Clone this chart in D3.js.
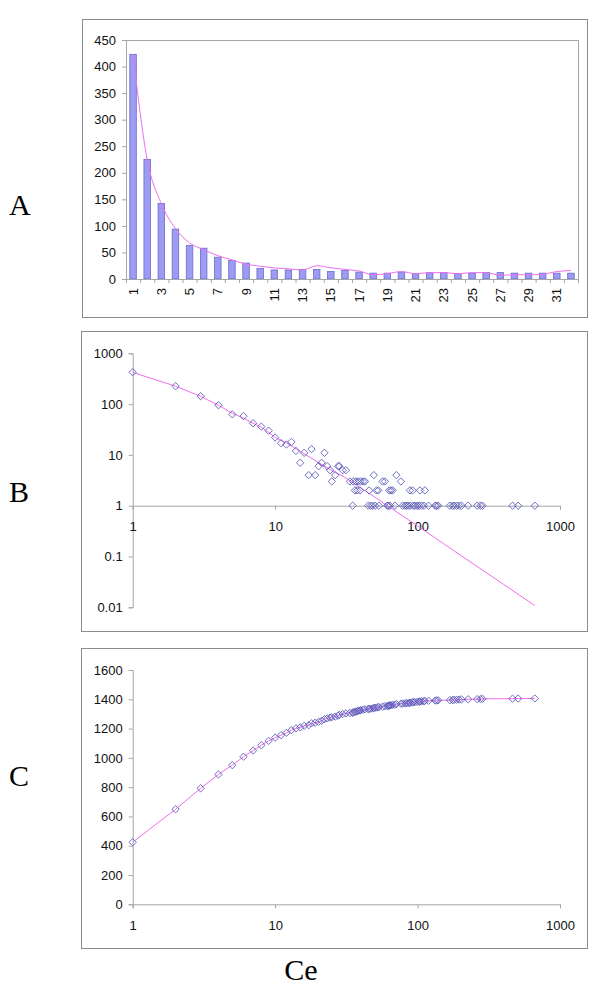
<!DOCTYPE html>
<html>
<head>
<meta charset="utf-8">
<script src="https://d3js.org/d3.v7.min.js"></script>
<style>
  body { margin: 0; background: #fff; }
  .tick text { font-family: "Liberation Sans", Arial, sans-serif; font-size: 13px; fill: #111; }
  .panel-letter { font-family: "Liberation Serif", "Times New Roman", serif; font-size: 30px; fill: #000; }
</style>
</head>
<body>
<div id="chart"></div>
<script>
// ---- panel A: bars by rank ----
const categoriesA = d3.range(1, 33);
const valuesA = [423, 225, 142, 94, 63, 58, 41, 35, 30, 20, 17, 17, 18, 18, 14, 16,
                 13, 11, 11, 13, 10, 12, 12, 10, 11, 12, 12, 11, 11, 11, 11, 11];
const trendA = [423, 225, 142, 95, 68, 55, 44, 36, 28, 24, 21, 19, 17, 25, 21, 18,
                15, 8, 10, 14, 10, 12, 12, 10, 12, 12, 7, 8, 8, 9, 14, 16];
const yTicksA = d3.range(0, 451, 50);

// ---- panel B: counts vs Ce (log-log) ----
const ceB = [1, 2, 3, 4, 5, 6, 7, 8, 9, 10,
  11, 12, 13, 14, 15, 16, 17.2, 18, 19.1, 20.2, 21.2, 22.2, 23.2, 24.3, 25, 26.4, 27.7, 28.2, 29.8, 31.4,
  49.3, 71,
  33.5, 35.3, 36.9, 38.3, 39.8, 41.5, 42.7, 56.8, 59, 76.4,
  36.3, 37.7, 39.4, 45.7, 51.5, 53, 63.2, 65, 66.8, 88.3, 92.3, 103.8, 112.5,
  35, 45, 46.8, 48.3, 50.4, 53.5, 61.2, 62.2, 63.9, 69.3, 78.5, 81.5, 83.7, 85.9, 88.6, 93.1,
  95.7, 99.3, 102.6, 106.7, 110.8, 119.5, 133, 135.9, 139.5, 168.5, 176, 180.7, 188, 196,
  203.6, 226.5, 262, 276.6, 285.5, 464, 508, 666];
const countB = [424, 225, 143, 95, 63, 58, 42, 36, 30, 22,
  17, 16, 18, 12, 7, 11, 4, 13, 4, 6, 7, 11, 6, 5, 3, 4, 6, 6, 5, 5,
  4, 4,
  3, 3, 3, 3, 3, 3, 3, 3, 3, 3,
  2, 2, 2, 2, 2, 2, 2, 2, 2, 2, 2, 2, 2,
  1, 1, 1, 1, 1, 1, 1, 1, 1, 1, 1, 1, 1, 1, 1, 1,
  1, 1, 1, 1, 1, 1, 1, 1, 1, 1, 1, 1, 1, 1,
  1, 1, 1, 1, 1, 1, 1, 1];
// pink fitted curve
const fitCe = [1, 2, 3, 4, 5, 6, 7, 8, 9, 10, 12, 15, 20, 25, 30, 50, 100, 200, 400, 666];
const fitCount = [421, 225, 142, 95, 66, 53, 42, 35, 28, 22, 17.2, 11.7, 7.2, 4.9, 3.8,
                  1.48, 0.4, 0.106, 0.0285, 0.0108];
const yTicksB = [0.01, 0.1, 1, 10, 100, 1000];
const xTicksLog = [1, 10, 100, 1000];
const yTicksC = d3.range(0, 1601, 200);

const pink = "#ee6eee";
const dotColor = "#5656b8";

const svg = d3.select("#chart").append("svg")
    .attr("width", 600)
    .attr("height", 1000);

svg.append("rect").attr("width", 600).attr("height", 1000).attr("fill", "#fff");

// outer frames
const frames = [[82, 19, 505, 298], [81, 331, 506, 300], [81, 648, 506, 300]];
svg.selectAll(".frame").data(frames).enter().append("rect")
    .attr("class", "frame")
    .attr("x", d => d[0] + 0.5).attr("y", d => d[1] + 0.5)
    .attr("width", d => d[2]).attr("height", d => d[3])
    .attr("fill", "none").attr("stroke", "#8c8c8c");

function styleAxis(g) {
    g.select(".domain").attr("stroke", "#a6a6a6");
    g.selectAll(".tick line").attr("stroke", "#a6a6a6");
}

// ================= Panel A =================
const xA = d3.scaleBand().domain(categoriesA).range([126, 578]).padding(0);
const yA = d3.scaleLinear().domain([0, 450]).range([279, 40]);

svg.append("rect")
    .attr("x", 126.5).attr("y", 40.5)
    .attr("width", 578 - 126).attr("height", 279 - 40)
    .attr("fill", "none").attr("stroke", "#a6a6a6");

const bw = xA.bandwidth();
svg.append("g").selectAll("rect")
    .data(valuesA)
    .enter().append("rect")
    .attr("x", (d, i) => xA(categoriesA[i]) + bw * 0.27)
    .attr("width", bw * 0.46)
    .attr("y", d => yA(d))
    .attr("height", d => yA(0) - yA(d))
    .attr("fill", "#9c9cf4")
    .attr("stroke", "#6a6ac8")
    .attr("stroke-width", 0.8);

const trendLine = d3.line()
    .x((d, i) => xA(categoriesA[i]) + bw / 2)
    .y(d => yA(d))
    .curve(d3.curveMonotoneX);
svg.append("path")
    .datum(trendA)
    .attr("d", trendLine)
    .attr("fill", "none")
    .attr("stroke", pink)
    .attr("stroke-width", 1);

svg.append("g")
    .attr("transform", "translate(126,0)")
    .call(d3.axisLeft(yA).tickValues(yTicksA).tickSize(4).tickPadding(6))
    .call(styleAxis);

const xAxisA = svg.append("g")
    .attr("transform", "translate(0,279)")
    .call(d3.axisBottom(xA).tickSize(0).tickFormat(d => d % 2 ? d : ""))
    .call(styleAxis);
xAxisA.selectAll("text")
    .attr("transform", "rotate(-90)")
    .attr("text-anchor", "end")
    .attr("x", -9)
    .attr("y", 0)
    .attr("dy", "0.35em");
// tick marks on category boundaries
svg.append("g").selectAll("line")
    .data(categoriesA.concat([null]))
    .enter().append("line")
    .attr("x1", d => (d === null ? xA.range()[1] : xA(d)) + 0.5)
    .attr("x2", d => (d === null ? xA.range()[1] : xA(d)) + 0.5)
    .attr("y1", 279).attr("y2", 283)
    .attr("stroke", "#a6a6a6");

// ================= Panel B =================
const xB = d3.scaleLog().domain([1, 1000]).range([132.7, 560]);
const yB = d3.scaleLog().domain([0.01, 1000]).range([607.3, 353.3]);

svg.append("g")
    .attr("transform", "translate(132.7,0)")
    .call(d3.axisLeft(yB).tickValues(yTicksB).tickSize(4).tickPadding(6).tickFormat(d3.format("~g")))
    .call(styleAxis);

svg.append("g")
    .attr("transform", `translate(0,${yB(1)})`)
    .call(d3.axisBottom(xB).tickValues(xTicksLog).tickSize(4).tickPadding(12).tickFormat(d3.format("~g")))
    .call(styleAxis);

svg.append("path")
    .datum(fitCe.map((c, i) => [c, fitCount[i]]))
    .attr("d", d3.line().x(d => xB(d[0])).y(d => yB(d[1])))
    .attr("fill", "none")
    .attr("stroke", pink)
    .attr("stroke-width", 1);

const diamond = d3.symbol().type(d3.symbolSquare).size(27);

svg.append("g").selectAll("path")
    .data(ceB.map((c, i) => [c, countB[i]]))
    .enter().append("path")
    .attr("d", diamond)
    .attr("transform", d => `translate(${xB(d[0])},${yB(d[1])}) rotate(45)`)
    .attr("fill", "none")
    .attr("stroke", dotColor)
    .attr("stroke-width", 0.8);

// ================= Panel C =================
// cumulative counts of panel B, ordered by Ce
const orderC = d3.range(ceB.length).sort((a, b) => ceB[a] - ceB[b]);
const ceC = orderC.map(i => ceB[i]);
const cumC = Array.from(d3.cumsum(orderC.map(i => countB[i])));

const xC = d3.scaleLog().domain([1, 1000]).range([132.7, 560]);
const yC = d3.scaleLinear().domain([0, 1600]).range([904.3, 670]);

svg.append("g")
    .attr("transform", "translate(132.7,0)")
    .call(d3.axisLeft(yC).tickValues(yTicksC).tickSize(4).tickPadding(6).tickFormat(d3.format("d")))
    .call(styleAxis);

svg.append("g")
    .attr("transform", "translate(0,904.3)")
    .call(d3.axisBottom(xC).tickValues(xTicksLog).tickSize(4).tickPadding(12).tickFormat(d3.format("~g")))
    .call(styleAxis);

svg.append("path")
    .datum(ceC.map((c, i) => [c, cumC[i]]))
    .attr("d", d3.line().x(d => xC(d[0])).y(d => yC(d[1])))
    .attr("fill", "none")
    .attr("stroke", pink)
    .attr("stroke-width", 1);

svg.append("g").selectAll("path")
    .data(ceC.map((c, i) => [c, cumC[i]]))
    .enter().append("path")
    .attr("d", diamond)
    .attr("transform", d => `translate(${xC(d[0])},${yC(d[1])}) rotate(45)`)
    .attr("fill", "none")
    .attr("stroke", dotColor)
    .attr("stroke-width", 0.8);

// panel letters and x label
const letters = [["A", 9, 215], ["B", 9, 502], ["C", 9, 786]];
svg.selectAll(".panel-letter").data(letters).enter().append("text")
    .attr("class", "panel-letter")
    .attr("x", d => d[1]).attr("y", d => d[2])
    .text(d => d[0]);

svg.append("text")
    .attr("class", "panel-letter")
    .attr("x", 301).attr("y", 980)
    .attr("text-anchor", "middle")
    .text("Ce");
</script>
</body>
</html>
